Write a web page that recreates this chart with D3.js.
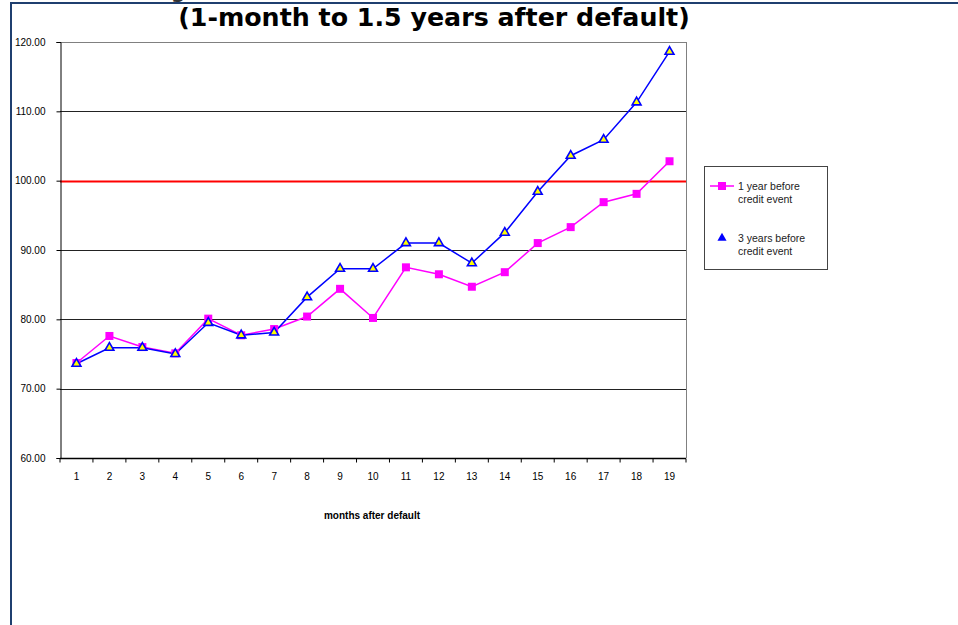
<!doctype html>
<html>
<head>
<meta charset="utf-8">
<title>1-month to 1.5 years after default</title>
<script src="https://d3js.org/d3.v7.min.js"></script>
<style>
  body { margin: 0; background: #fff; }
</style>
</head>
<body>
<script>
  var months = d3.range(1, 20);
  var oneYear = [73.7, 77.6, 76.0, 75.1, 80.1, 77.7, 78.6, 80.4, 84.4, 80.2, 87.5, 86.5, 84.7, 86.8, 91.0, 93.3, 96.9, 98.1, 102.8];
  var threeYears = [73.6, 75.9, 75.9, 75.0, 79.5, 77.7, 78.1, 83.2, 87.3, 87.3, 91.0, 91.0, 88.1, 92.5, 98.4, 103.6, 105.9, 111.3, 118.6];
  var yTicks = [60, 70, 80, 90, 100, 110, 120];
  var seriesNames = ["1 year before credit event", "3 years before credit event"];

  var width = 958, height = 625;
  var plotLeft = 60, plotRight = 686, plotTop = 42, plotBottom = 458;
  var sans = "Arial, 'Liberation Sans', sans-serif";

  var svg = d3.select("body").append("svg")
      .attr("width", width)
      .attr("height", height)
      .style("font-family", sans);

  // outer frame (top and left edges only are visible)
  svg.append("line").attr("x1", 10).attr("x2", width).attr("y1", 3).attr("y2", 3)
      .attr("stroke", "#1f3f6f").attr("stroke-width", 2);
  svg.append("line").attr("x1", 11).attr("x2", 11).attr("y1", 3).attr("y2", height)
      .attr("stroke", "#1f3f6f").attr("stroke-width", 2);

  // leftover of a clipped first title line
  svg.append("text").attr("x", 171).attr("y", -2)
      .style("font-family", "'DejaVu Sans', Verdana, sans-serif")
      .attr("font-size", 20).attr("font-weight", "bold").attr("fill", "#333").text("g");

  var title = svg.append("text")
      .attr("x", 434).attr("y", 26)
      .attr("text-anchor", "middle")
      .style("font-family", "'DejaVu Sans', Verdana, sans-serif")
      .attr("font-size", 20).attr("font-weight", "bold")
      .text("(1-month to 1.5 years after default)");
  var tw = title.node().getComputedTextLength();
  title.attr("font-size", 20 * 512 / tw);

  var x = d3.scaleBand().domain(months).range([plotLeft, plotRight]);
  var y = d3.scaleLinear().domain([60, 120]).range([plotBottom, plotTop]);

  // gridlines
  svg.append("g").selectAll("line")
      .data(yTicks.filter(function(d) { return d > 60; }))
      .enter().append("line")
      .attr("x1", plotLeft).attr("x2", plotRight)
      .attr("y1", function(d) { return Math.round(y(d)) + 0.5; })
      .attr("y2", function(d) { return Math.round(y(d)) + 0.5; })
      .attr("stroke", function(d) { return d === 100 ? "#ff0000" : (d === 120 ? "#808080" : "#222"); })
      .attr("stroke-width", function(d) { return d === 100 ? 2 : 1; });

  // right border of plot area
  svg.append("line").attr("x1", plotRight + 0.5).attr("x2", plotRight + 0.5)
      .attr("y1", plotTop).attr("y2", plotBottom).attr("stroke", "#808080");

  // y axis
  var yAxis = svg.append("g")
      .attr("transform", "translate(" + (plotLeft + 0.5) + ",0)")
      .call(d3.axisLeft(y).tickValues(yTicks).tickSize(4).tickPadding(11)
          .tickFormat(d3.format(".2f")));
  yAxis.attr("font-family", null);
  yAxis.select(".domain").attr("stroke", "#000");
  yAxis.selectAll("text").attr("font-size", 10).attr("fill", "#000");

  // x axis, ticks at category boundaries
  var xAxis = svg.append("g").attr("transform", "translate(0," + (plotBottom + 0.5) + ")");
  xAxis.append("line").attr("x1", plotLeft).attr("x2", plotRight).attr("stroke", "#000").attr("stroke-width", 1.5);
  xAxis.selectAll(".tk")
      .data(months.concat([20]))
      .enter().append("line")
      .attr("x1", function(d) { return d === 20 ? plotRight : x(d); })
      .attr("x2", function(d) { return d === 20 ? plotRight : x(d); })
      .attr("y1", 0).attr("y2", 4)
      .attr("stroke", "#000");
  xAxis.selectAll("text")
      .data(months)
      .enter().append("text")
      .attr("x", function(d) { return x(d) + x.bandwidth() / 2; })
      .attr("y", 21)
      .attr("text-anchor", "middle")
      .attr("font-size", 10)
      .text(function(d) { return d; });

  svg.append("text")
      .attr("x", 372).attr("y", 519)
      .attr("text-anchor", "middle")
      .attr("font-size", 10).attr("font-weight", "bold")
      .text("months after default");

  var line = d3.line()
      .x(function(d, i) { return x(months[i]) + x.bandwidth() / 2; })
      .y(function(d) { return y(d); });

  svg.append("path").datum(oneYear)
      .attr("d", line).attr("fill", "none")
      .attr("stroke", "#ff00ff").attr("stroke-width", 1.5);

  svg.append("path").datum(threeYears)
      .attr("d", line).attr("fill", "none")
      .attr("stroke", "#0000ff").attr("stroke-width", 1.5);

  svg.append("g").selectAll("rect")
      .data(oneYear)
      .enter().append("rect")
      .attr("x", function(d, i) { return x(months[i]) + x.bandwidth() / 2 - 4; })
      .attr("y", function(d) { return y(d) - 4; })
      .attr("width", 8).attr("height", 8)
      .attr("fill", "#ff00ff");

  var tri = d3.symbol().type(d3.symbolTriangle).size(34);
  svg.append("g").selectAll("path")
      .data(threeYears)
      .enter().append("path")
      .attr("d", tri)
      .attr("transform", function(d, i) {
        return "translate(" + (x(months[i]) + x.bandwidth() / 2) + "," + y(d) + ")";
      })
      .attr("fill", "#ffff00").attr("stroke", "#0000ff").attr("stroke-width", 1.6);

  // legend
  var lg = svg.append("g");
  lg.append("rect").attr("x", 704.5).attr("y", 166.5).attr("width", 123).attr("height", 103)
      .attr("fill", "#fff").attr("stroke", "#444");
  lg.append("line").attr("x1", 710).attr("x2", 734).attr("y1", 186).attr("y2", 186)
      .attr("stroke", "#ff00ff").attr("stroke-width", 1.5);
  lg.append("rect").attr("x", 718).attr("y", 182).attr("width", 8).attr("height", 8).attr("fill", "#ff00ff");
  lg.append("path").attr("d", d3.symbol().type(d3.symbolTriangle).size(36))
      .attr("transform", "translate(722,238)").attr("fill", "#0000ff");

  [190, 242].forEach(function(yy, i) {
    var parts = seriesNames[i].split(" credit");
    var t = lg.append("text").attr("x", 738).attr("y", yy).attr("font-size", 10.5).attr("fill", "#222");
    t.append("tspan").attr("x", 738).text(parts[0]);
    t.append("tspan").attr("x", 738).attr("dy", 13).text("credit" + parts[1]);
  });
</script>
</body>
</html>
